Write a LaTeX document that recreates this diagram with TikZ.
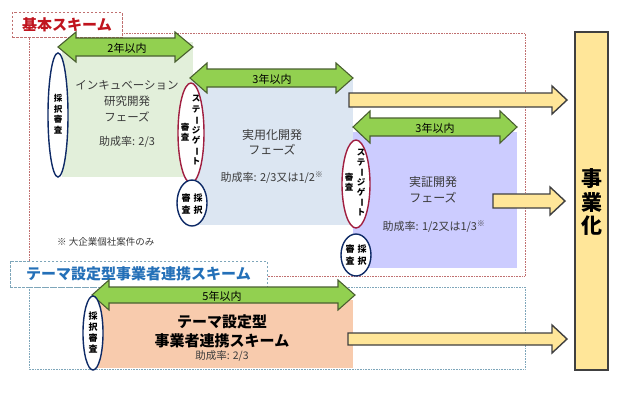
\documentclass[tikz,border=0pt]{standalone}
\usepackage{fontspec}
\setmainfont{Noto Sans CJK JP}
\usetikzlibrary{shapes.geometric}
\definecolor{grnbox}{HTML}{E2EFDA}
\definecolor{blubox}{HTML}{DCE6F2}
\definecolor{purbox}{HTML}{CCCCFF}
\definecolor{pchbox}{HTML}{F8CBAD}
\definecolor{grnarr}{HTML}{92D050}
\definecolor{grnline}{HTML}{4A6030}
\definecolor{yelarr}{HTML}{FFE699}
\definecolor{darkline}{HTML}{404040}
\definecolor{navy}{HTML}{0E2A66}
\definecolor{crimson}{HTML}{A01E40}
\definecolor{titlered}{HTML}{C0141E}
\definecolor{titleblue}{HTML}{2470B8}
\definecolor{redframe}{HTML}{C07070}
\definecolor{blueframe}{HTML}{7EA6BA}
\definecolor{txtgray}{HTML}{3A3A3A}
\newcommand\vlong{\rotatebox[origin=c]{-90}{ー}}
\newcommand\dblarrow[7]{%
  \draw[#1] (#2,#4) -- (#2+#7,#4-#6) -- (#2+#7,#4-#5) -- (#3-#7,#4-#5) -- (#3-#7,#4-#6)
   -- (#3,#4) -- (#3-#7,#4+#6) -- (#3-#7,#4+#5) -- (#2+#7,#4+#5) -- (#2+#7,#4+#6) -- cycle;}
\newcommand\sglarrow[7]{%
  \draw[#1] (#2,#4-#5) -- (#3-#7,#4-#5) -- (#3-#7,#4-#6) -- (#3,#4) -- (#3-#7,#4+#6)
   -- (#3-#7,#4+#5) -- (#2,#4+#5) -- cycle;}
\tikzset{
  phasebox/.style={draw=none},
  grnarrow/.style={fill=grnarr,draw=grnline,line width=1.1pt,line join=miter},
  yelarrow/.style={fill=yelarr,draw=darkline,line width=1.4pt,line join=miter},
  navyell/.style={ellipse,draw=navy,fill=white,line width=1.4pt,inner sep=0pt},
  redell/.style={ellipse,draw=crimson,fill=white,line width=1.4pt,inner sep=0pt},
  vtxt/.style={align=center,inner sep=0pt,font=\bfseries\fontsize{8.5}{10.5}\selectfont},
  phasetxt/.style={align=center,inner sep=0pt,text=txtgray,font=\fontsize{11.5}{16}\selectfont},
  ratetxt/.style={inner sep=0pt,text=txtgray,font=\fontsize{11}{13}\selectfont},
  yrtxt/.style={inner sep=0pt,font=\fontsize{11}{13}\selectfont},
}
\begin{document}
\begin{tikzpicture}[x=1pt,y=-1pt]
\useasboundingbox (0,0) rectangle (640,400);
% frames
\draw[redframe,densely dotted,line width=0.6pt] (29,33) rectangle (525,276);
\draw[blueframe,densely dotted,line width=0.6pt] (29,287) rectangle (525,369);
% phase boxes
\fill[grnbox] (62,42) rectangle (193,177);
\fill[blubox] (192,80) rectangle (353,225);
\fill[purbox] (353,132) rectangle (517,268);
\fill[pchbox] (95,300) rectangle (353,368);
% titles
\node[draw=redframe,dash pattern=on 2.5pt off 1.5pt,fill=white,minimum width=110pt,minimum height=25pt,inner sep=0pt,
  text=titlered,font=\bfseries\fontsize{15}{17}\selectfont] (t1) at (67,25) {基本スキーム};
\node[draw=blueframe,dash pattern=on 2.5pt off 1.5pt,fill=white,minimum width=257pt,minimum height=26pt,inner sep=0pt,
  text=titleblue,font=\bfseries\fontsize{15}{17}\selectfont] (t2) at (138.5,274) {テーマ設定型事業者連携スキーム};
% green arrows
\dblarrow{grnarrow}{58}{193}{47}{9}{15}{18}
\dblarrow{grnarrow}{190}{353}{78}{9}{15}{17}
\dblarrow{grnarrow}{353}{517}{127}{9}{16}{17}
\dblarrow{grnarrow}{92}{355}{295}{8}{15}{17}
\node[yrtxt] (a1) at (127,48) {2年以内};
\node[yrtxt] (a2) at (272,79) {3年以内};
\node[yrtxt] (a3) at (435,128) {3年以内};
\node[yrtxt] (a4) at (222,296) {5年以内};
% yellow arrows
\sglarrow{yelarrow}{349}{567}{100}{7}{14}{15}
\sglarrow{yelarrow}{493}{565}{201}{7}{14}{15}
\sglarrow{yelarrow}{348}{567}{339}{6}{14}{15}
% commercialisation
\node[draw=darkline,fill=yelarr,line width=1.4pt,minimum width=33pt,minimum height=338pt,inner sep=0pt] (biz) at (591.5,201) {};
\node[align=center,inner sep=0pt,font=\bfseries\fontsize{21}{23.5}\selectfont] (biztxt) at (591.5,202) {事\\業\\化};
% phase texts
\node[phasetxt] (p1) at (127,101) {インキュベーション\\研究開発\\フェーズ};
\node[ratetxt] (r1) at (127,142) {助成率: 2/3};
\node[phasetxt,font=\fontsize{12}{15}\selectfont] (p2) at (272,142) {実用化開発\\フェーズ};
\node[ratetxt] (r2) at (272,178) {助成率: 2/3又は1/2\textsuperscript{※}};
\node[phasetxt,font=\fontsize{12}{16}\selectfont] (p3) at (433,190) {実証開発\\フェーズ};
\node[ratetxt] (r3) at (434,227) {助成率: 1/2又は1/3\textsuperscript{※}};
\node[align=center,inner sep=0pt,font=\bfseries\fontsize{15}{19}\selectfont] (p4) at (222,331) {テーマ設定型\\事業者連携スキーム};
\node[ratetxt,font=\fontsize{10.5}{12}\selectfont] (r4) at (222,356) {助成率: 2/3};
\node[anchor=west,inner sep=0pt,text=txtgray,font=\fontsize{9.5}{11}\selectfont] (note) at (57,242) {※ 大企業個社案件のみ};
% ellipses
\node[navyell,minimum width=20pt,minimum height=124pt] (e1) at (58,115) {};
\node[vtxt] (e1t) at (58,114) {採\\択\\審\\査};
\node[redell,minimum width=26pt,minimum height=100pt] (e2) at (191,133) {};
\node[vtxt] (e2a) at (196,130) {ス\\テ\\\vlong\\ジ\\ゲ\\\vlong\\ト};
\node[vtxt] (e2b) at (185,132) {審\\査};
\node[navyell,minimum width=30pt,minimum height=46pt] (e3) at (192,203) {};
\node[vtxt,font=\bfseries\fontsize{9}{11.5}\selectfont] (e3a) at (198,204) {採\\択};
\node[vtxt,font=\bfseries\fontsize{9}{11.5}\selectfont] (e3b) at (186,204) {審\\査};
\node[redell,minimum width=28pt,minimum height=88pt] (e4) at (356,184) {};
\node[vtxt,font=\bfseries\fontsize{8.5}{10}\selectfont] (e4a) at (361,182) {ス\\テ\\\vlong\\ジ\\ゲ\\\vlong\\ト};
\node[vtxt] (e4b) at (349,182) {審\\査};
\node[navyell,minimum width=30pt,minimum height=42pt] (e5) at (356,255) {};
\node[vtxt,font=\bfseries\fontsize{9}{11.5}\selectfont] (e5a) at (362,255) {採\\択};
\node[vtxt,font=\bfseries\fontsize{9}{11.5}\selectfont] (e5b) at (350,255) {審\\査};
\node[navyell,minimum width=20pt,minimum height=74pt] (e6) at (93,333) {};
\node[vtxt,font=\bfseries\fontsize{9}{11}\selectfont] (e6t) at (93,333) {採\\択\\審\\査};
\end{tikzpicture}
\end{document}
